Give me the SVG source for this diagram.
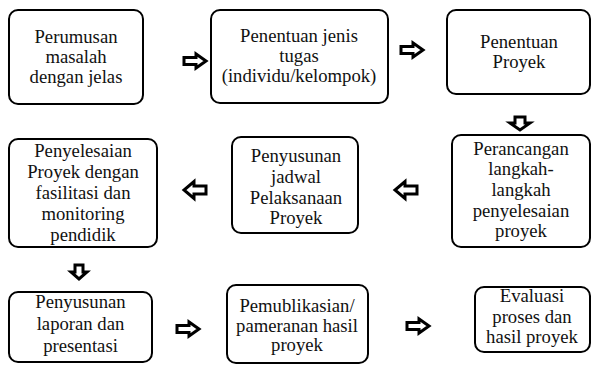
<svg xmlns="http://www.w3.org/2000/svg" width="592" height="365" viewBox="0 0 592 365">
<style>
.box{fill:#fff;stroke:#000;stroke-width:2}
.t{font-family:'Liberation Serif','Times New Roman',serif;font-size:18.7px;fill:#111;text-anchor:middle}
.ar{fill:#fff;stroke:#000;stroke-width:3;stroke-linejoin:miter}
</style>
<defs>
<path id="ra" d="M-11,-3.5 H1 V-7 L11,0 L1,7 V3.5 H-11 Z"/>
<path id="la" d="M11,-4 H-1 V-8.5 L-11,0 L-1,8.5 V4 H11 Z"/>
<path id="da" d="M-4,-7 V0 H-8 L0,7 L8,0 H4 V-7 Z"/>
<path id="da2" d="M-5,-6 V0 H-10 L0,7 L10,0 H5 V-6 Z"/>
</defs>
<rect width="592" height="365" fill="#fff"/>
<g id="connectors">
<use href="#ra" class="ar" x="195" y="61"/>
<use href="#ra" class="ar" x="412" y="50"/>
<use href="#da2" class="ar" x="520" y="123"/>
<use href="#la" class="ar" x="406" y="190"/>
<use href="#la" class="ar" x="195" y="190"/>
<use href="#da" class="ar" x="79" y="272"/>
<use href="#ra" class="ar" x="188" y="329"/>
<use href="#ra" class="ar" x="418" y="326"/>
</g>
<g id="n1">
<rect class="box" x="9" y="10" width="134" height="94" rx="9"/>
<text class="t" x="76" y="43">Perumusan</text>
<text class="t" x="76" y="63">masalah</text>
<text class="t" x="76" y="83">dengan jelas</text>
</g>
<g id="n2">
<rect class="box" x="211" y="10" width="177" height="93" rx="9"/>
<text class="t" x="299" y="42">Penentuan jenis</text>
<text class="t" x="299" y="62">tugas</text>
<text class="t" x="299" y="82">(individu/kelompok)</text>
</g>
<g id="n3">
<rect class="box" x="447" y="10" width="143" height="84" rx="9"/>
<text class="t" x="519" y="48">Penentuan</text>
<text class="t" x="519" y="68">Proyek</text>
</g>
<g id="n4">
<rect class="box" x="452" y="135" width="138" height="112" rx="9"/>
<text class="t" x="521" y="155">Perancangan</text>
<text class="t" x="521" y="175">langkah-</text>
<text class="t" x="521" y="196">langkah</text>
<text class="t" x="521" y="217">penyelesaian</text>
<text class="t" x="521" y="237">proyek</text>
</g>
<g id="n5">
<rect class="box" x="232" y="137" width="126" height="96" rx="9"/>
<text class="t" x="296" y="162">Penyusunan</text>
<text class="t" x="296" y="183">jadwal</text>
<text class="t" x="296" y="204">Pelaksanaan</text>
<text class="t" x="296" y="224">Proyek</text>
</g>
<g id="n6">
<rect class="box" x="9" y="139" width="148" height="108" rx="9"/>
<text class="t" x="83" y="157">Penyelesaian</text>
<text class="t" x="83" y="178">Proyek dengan</text>
<text class="t" x="83" y="199">fasilitasi dan</text>
<text class="t" x="83" y="220">monitoring</text>
<text class="t" x="83" y="241">pendidik</text>
</g>
<g id="n7">
<rect class="box" x="9" y="292" width="143" height="70" rx="9"/>
<text class="t" x="80.5" y="308">Penyusunan</text>
<text class="t" x="80.5" y="330">laporan dan</text>
<text class="t" x="80.5" y="352">presentasi</text>
</g>
<g id="n8">
<rect class="box" x="227" y="285" width="141" height="78" rx="9"/>
<text class="t" x="297" y="312">Pemublikasian/</text>
<text class="t" x="297" y="332">pameranan hasil</text>
<text class="t" x="297" y="351">proyek</text>
</g>
<g id="n9">
<rect class="box" x="475" y="287" width="115" height="65" rx="9"/>
<text class="t" x="532" y="302">Evaluasi</text>
<text class="t" x="532" y="323">proses dan</text>
<text class="t" x="532" y="343">hasil proyek</text>
</g>
</svg>
